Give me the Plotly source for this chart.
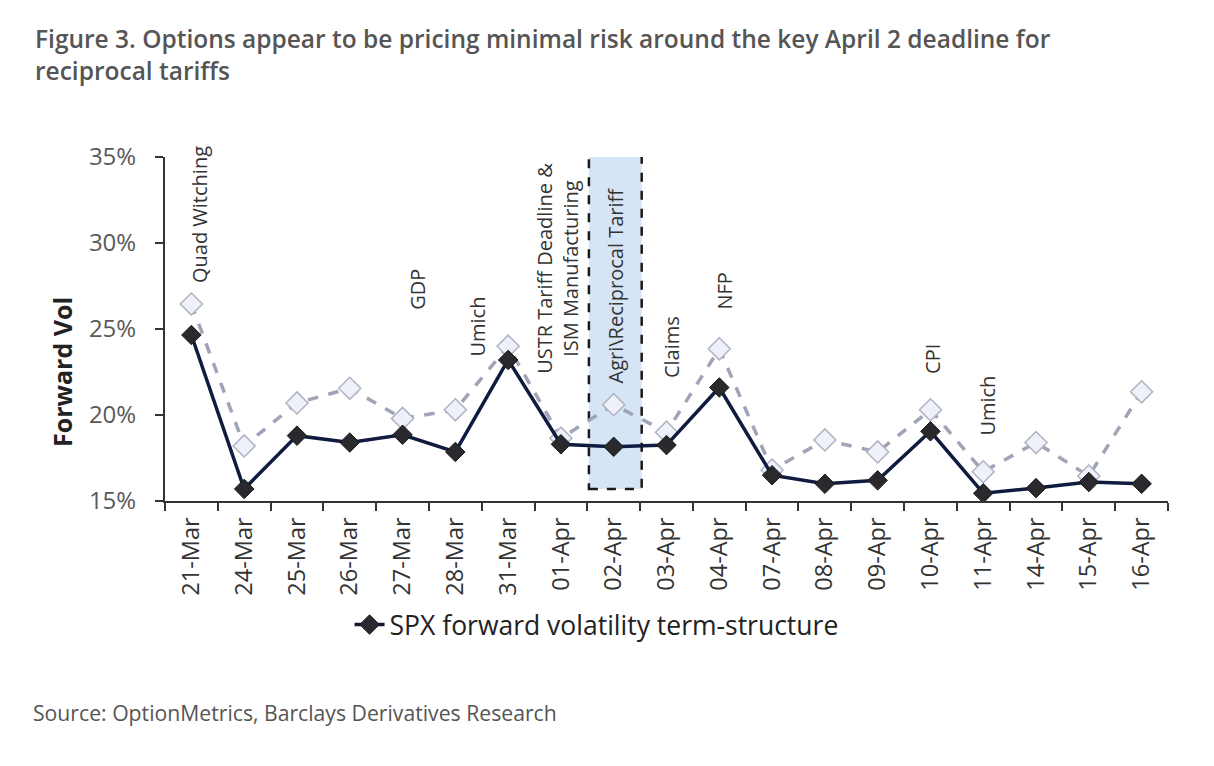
import plotly.graph_objects as go

dates = ["21-Mar", "24-Mar", "25-Mar", "26-Mar", "27-Mar", "28-Mar", "31-Mar",
         "01-Apr", "02-Apr", "03-Apr", "04-Apr", "07-Apr", "08-Apr", "09-Apr",
         "10-Apr", "11-Apr", "14-Apr", "15-Apr", "16-Apr"]
fwd_vol = [24.65, 15.7, 18.8, 18.4, 18.85, 17.85, 23.2, 18.3, 18.15, 18.25,
           21.6, 16.5, 16.0, 16.2, 19.05, 15.45, 15.75, 16.1, 16.0]
fwd_vol_alt = [26.45, 18.2, 20.7, 21.55, 19.8, 20.3, 24.0, 18.65, 20.6, 19.0,
               23.85, 16.8, 18.55, 17.85, 20.3, 16.7, 18.4, 16.45, 21.35]

# event labels: (date, text, label bottom in vol %, x shift px)
events = [
    ("21-Mar", "Quad Witching", 27.55, 8),
    ("27-Mar", "GDP", 26.0, 15),
    ("28-Mar", "Umich", 23.3, 22),
    ("01-Apr", "USTR Tariff Deadline &<br>ISM Manufacturing", 22.3, -3),
    ("02-Apr", "Agri\\Reciprocal Tariff", 21.7, 2),
    ("03-Apr", "Claims", 22.0, 5),
    ("04-Apr", "NFP", 26.0, 5),
    ("10-Apr", "CPI", 22.3, 2),
    ("11-Apr", "Umich", 18.7, 4),
]
highlight = "02-Apr"

FONT = "Open Sans"

fig = go.Figure()

fig.add_trace(go.Scatter(
    x=dates, y=fwd_vol_alt, mode="lines+markers", showlegend=False,
    line=dict(color="#a0a4b7", width=3.5, dash="dash"),
    marker=dict(symbol="diamond", size=17, color="#eef0fa",
                line=dict(color="#b0b3c2", width=1.5)),
))
fig.add_trace(go.Scatter(
    x=dates, y=fwd_vol, mode="lines+markers",
    name="SPX forward volatility term-structure",
    line=dict(color="#0f1c3f", width=3.5),
    marker=dict(symbol="diamond", size=15, color="#2a2a2e",
                line=dict(color="#1a1a1a", width=1)),
))

# highlight box round the key date
i = dates.index(highlight)
fig.add_shape(type="rect", xref="x", yref="y", x0=i - 0.47, x1=i + 0.53,
              y0=15.7, y1=35.3, fillcolor="rgba(185,212,240,0.6)",
              line=dict(color="#1a1a1a", width=2.5, dash="dash"), layer="below")

for d, txt, yb, dx in events:
    fig.add_annotation(x=d, y=yb, text=txt, textangle=-90, showarrow=False,
                       xanchor="center", yanchor="bottom", xshift=dx,
                       font=dict(family=FONT, size=20, color="#333333"))

# y axis title (sits lower than the axis middle, as in the source)
fig.add_annotation(
    xref="paper", yref="y", x=-0.1027, y=22.5, textangle=-90, showarrow=False,
    xanchor="center", yanchor="middle", text="<b>Forward Vol</b>",
    font=dict(family=FONT, size=25, color="#222222"))

fig.add_annotation(
    xref="paper", yref="paper", x=-0.1316, y=1.398, xanchor="left", yanchor="top",
    align="left", showarrow=False,
    text="Figure 3. Options appear to be pricing minimal risk around the key April 2 deadline for<br>reciprocal tariffs",
    font=dict(family=FONT, size=24.5, color="#555555", weight=600))
fig.add_annotation(
    xref="paper", yref="paper", x=-0.1336, y=-0.616, xanchor="left", yanchor="middle",
    showarrow=False, text="Source: OptionMetrics, Barclays Derivatives Research",
    font=dict(family=FONT, size=21.2, color="#555555"))

fig.update_layout(
    width=1214, height=766,
    margin=dict(l=157, r=54, t=149, b=273),
    plot_bgcolor="white", paper_bgcolor="white",
    font=dict(family=FONT, color="#333333"),
    showlegend=True,
    legend=dict(x=0.184, y=-0.36, xanchor="left", yanchor="middle",
                font=dict(family=FONT, size=26.5, color="#222222"),
                bgcolor="rgba(0,0,0,0)"),
)
fig.update_xaxes(
    type="category", range=[-0.5, len(dates) - 0.5], tickangle=-90,
    tickson="boundaries", ticks="outside", ticklabelstandoff=5,
    ticklen=8, tickwidth=2, tickcolor="#333333",
    showline=True, linecolor="#333333", linewidth=2,
    showgrid=False, tickfont=dict(family=FONT, size=23.5, color="#333333"),
)
fig.update_yaxes(
    range=[15, 35], dtick=5, ticksuffix="%", ticks="outside", ticklen=8,
    tickwidth=2, tickcolor="#333333", showline=True, linecolor="#333333",
    linewidth=2, showgrid=False, zeroline=False, ticklabelstandoff=14,
    tickfont=dict(family=FONT, size=24, color="#595959"),
)

fig.write_html("out.html")
